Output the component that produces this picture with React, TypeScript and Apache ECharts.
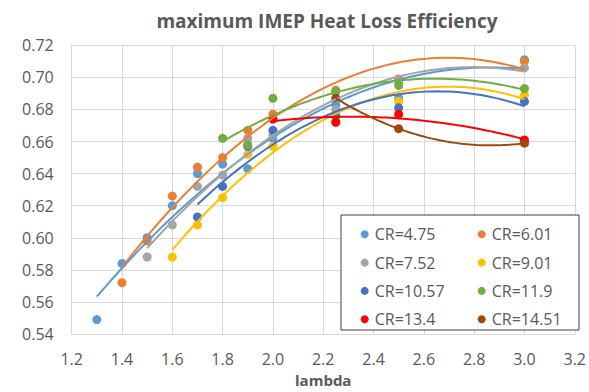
import React, { useEffect, useRef } from "react";
import * as echarts from "echarts";

const seriesNames = ["CR=4.75", "CR=6.01", "CR=7.52", "CR=9.01", "CR=10.57", "CR=11.9", "CR=13.4", "CR=14.51"];
const seriesColors = ["#5B9BD5", "#ED7D31", "#A5A5A5", "#FFC000", "#4472C4", "#70AD47", "#FF0000", "#9E480E"];

const lambdaCR475 = [1.3, 1.4, 1.5, 1.6, 1.7, 1.8, 1.9, 2.0, 2.25, 2.5, 3.0];
const effCR475 = [0.549, 0.584, 0.600, 0.620, 0.640, 0.646, 0.643, 0.662, 0.683, 0.687, 0.711];

const lambdaCR601 = [1.4, 1.5, 1.6, 1.7, 1.8, 1.9, 2.0, 2.25, 2.5, 3.0];
const effCR601 = [0.572, 0.598, 0.626, 0.644, 0.650, 0.667, 0.677, 0.692, 0.699, 0.710];

const lambdaCR752 = [1.5, 1.6, 1.7, 1.8, 1.9, 2.0, 2.25, 2.5, 3.0];
const effCR752 = [0.588, 0.608, 0.632, 0.639, 0.662, 0.664, 0.680, 0.697, 0.706];

const lambdaCR901 = [1.6, 1.7, 1.8, 1.9, 2.0, 2.25, 2.5, 3.0];
const effCR901 = [0.588, 0.608, 0.625, 0.652, 0.657, 0.673, 0.685, 0.689];

const lambdaCR1057 = [1.7, 1.8, 1.9, 2.0, 2.25, 2.5, 3.0];
const effCR1057 = [0.613, 0.632, 0.657, 0.667, 0.676, 0.681, 0.685];

const lambdaCR119 = [1.8, 1.9, 2.0, 2.25, 2.5, 3.0];
const effCR119 = [0.662, 0.658, 0.687, 0.691, 0.695, 0.693];

const lambdaCR134 = [2.0, 2.25, 2.5, 3.0];
const effCR134 = [0.674, 0.672, 0.677, 0.661];

const lambdaCR1451 = [2.25, 2.5, 3.0];
const effCR1451 = [0.687, 0.668, 0.659];

const seriesLambda = [lambdaCR475, lambdaCR601, lambdaCR752, lambdaCR901, lambdaCR1057, lambdaCR119, lambdaCR134, lambdaCR1451];
const seriesEff = [effCR475, effCR601, effCR752, effCR901, effCR1057, effCR119, effCR134, effCR1451];

const xTicks = { min: 1.2, max: 3.2, interval: 0.2 };
const yTicks = { min: 0.54, max: 0.72, interval: 0.02 };

// Least-squares polynomial (order 2) trendline, as in the spreadsheet
function quadFit(xs: number[], ys: number[]): number[] {
  const S = [0, 0, 0, 0, 0];
  const T = [0, 0, 0];
  for (let i = 0; i < xs.length; i++) {
    let p = 1;
    for (let k = 0; k < 5; k++) {
      S[k] += p;
      if (k < 3) T[k] += p * ys[i];
      p *= xs[i];
    }
  }
  const M = [
    [S[0], S[1], S[2], T[0]],
    [S[1], S[2], S[3], T[1]],
    [S[2], S[3], S[4], T[2]],
  ];
  for (let c = 0; c < 3; c++) {
    let piv = c;
    for (let r = c + 1; r < 3; r++) if (Math.abs(M[r][c]) > Math.abs(M[piv][c])) piv = r;
    const tmp = M[c]; M[c] = M[piv]; M[piv] = tmp;
    for (let r = 0; r < 3; r++) {
      if (r === c) continue;
      const f = M[r][c] / M[c][c];
      for (let k = c; k < 4; k++) M[r][k] -= f * M[c][k];
    }
  }
  return [M[0][3] / M[0][0], M[1][3] / M[1][1], M[2][3] / M[2][2]];
}

function trendPoints(xs: number[], ys: number[]): number[][] {
  const [a, b, c] = quadFit(xs, ys);
  const lo = Math.min(...xs);
  const hi = Math.max(...xs);
  const n = 60;
  const pts: number[][] = [];
  for (let i = 0; i <= n; i++) {
    const x = lo + ((hi - lo) * i) / n;
    pts.push([x, a + b * x + c * x * x]);
  }
  return pts;
}

const FONT = "'Open Sans', 'Noto Sans', sans-serif";
const TXT = "#595959";

export default function App() {
  const ref = useRef<HTMLDivElement>(null);
  useEffect(() => {
    if (!ref.current) return;
    const chart = echarts.init(ref.current, null, { renderer: "svg" });
    const scatter = seriesNames.map((name, i) => ({
      name,
      type: "scatter",
      data: seriesLambda[i].map((x, j) => [x, seriesEff[i][j]]),
      symbol: "circle",
      symbolSize: 9,
      itemStyle: { color: seriesColors[i], opacity: 1 },
      z: 2,
    }));
    const trends = seriesNames.map((name, i) => ({
      name: name + " trend",
      type: "line",
      data: trendPoints(seriesLambda[i], seriesEff[i]),
      showSymbol: false,
      symbol: "none",
      smooth: false,
      lineStyle: { color: seriesColors[i], width: 2 },
      itemStyle: { color: seriesColors[i] },
      z: 3,
      silent: true,
    }));
    const legendCommon = {
      orient: "vertical",
      icon: "circle",
      itemWidth: 10,
      itemHeight: 8,
      itemGap: 8.3,
      top: 219.3,
      textStyle: { fontFamily: FONT, fontSize: 16, color: TXT, lineHeight: 20 },
      selectedMode: false,
    };
    chart.setOption({
      animation: false,
      backgroundColor: "#ffffff",
      title: {
        text: "maximum IMEP Heat Loss Efficiency",
        left: 322,
        textAlign: "center",
        top: 6,
        textStyle: { fontFamily: FONT, fontSize: 19, fontWeight: "bold", color: TXT },
      },
      grid: { left: 71.7, right: 10, top: 45.3, bottom: 56.3, containLabel: false },
      xAxis: {
        type: "value",
        min: xTicks.min,
        max: xTicks.max,
        interval: xTicks.interval,
        name: "lambda",
        nameLocation: "middle",
        nameGap: 38,
        nameTextStyle: { fontFamily: FONT, fontSize: 15, fontWeight: "bold", color: TXT },
        axisLine: { show: true, lineStyle: { color: "#D9D9D9", width: 1 } },
        axisTick: { show: false },
        axisLabel: { fontFamily: FONT, fontSize: 16, color: TXT, margin: 17, formatter: (v: number) => v.toFixed(1) },
        splitLine: { show: true, lineStyle: { color: "#D9D9D9", width: 1 } },
      },
      yAxis: {
        type: "value",
        min: yTicks.min,
        max: yTicks.max,
        interval: yTicks.interval,
        axisLine: { show: true, lineStyle: { color: "#D9D9D9", width: 1 } },
        axisTick: { show: false },
        axisLabel: { fontFamily: FONT, fontSize: 16, color: TXT, margin: 18, formatter: (v: number) => v.toFixed(2) },
        splitLine: { show: true, lineStyle: { color: "#D9D9D9", width: 1 } },
      },
      legend: [
        { ...legendCommon, left: 355.7, data: [seriesNames[0], seriesNames[2], seriesNames[4], seriesNames[6]] },
        { ...legendCommon, left: 472.7, data: [seriesNames[1], seriesNames[3], seriesNames[5], seriesNames[7]] },
      ],
      graphic: [
        {
          type: "rect",
          shape: { x: 341, y: 215, width: 238, height: 115 },
          style: { fill: "#ffffff", stroke: "#404040", lineWidth: 1 },
          z: 3,
          silent: true,
        },
      ],
      series: [...scatter, ...trends],
    });
    return () => chart.dispose();
  }, []);
  return <div ref={ref} style={{ position: "fixed", left: 0, top: 0, width: 589, height: 392 }} />;
}
